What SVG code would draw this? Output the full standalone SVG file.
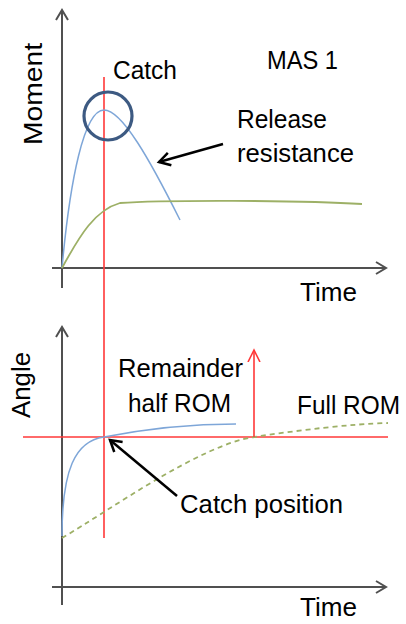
<svg xmlns="http://www.w3.org/2000/svg" width="406" height="624" viewBox="0 0 406 624">
<style>
.t{font-family:"Liberation Sans",Arial,sans-serif;font-size:26px;fill:#000}
.axis{stroke:#505050;stroke-width:2;fill:none}
.red{stroke:#FF3838;stroke-width:1.6;fill:none}
.blue{stroke:#7EA6D8;stroke-width:1.5;fill:none}
.green{stroke:#9DB066;stroke-width:1.8;fill:none}
.dash{stroke:#9DB066;stroke-width:1.8;fill:none;stroke-dasharray:5 4}
.ptr{stroke:#000;stroke-width:2.5;fill:none}
</style>
<defs>
<marker id="axArr" markerUnits="userSpaceOnUse" markerWidth="14" markerHeight="14" refX="11" refY="7" orient="auto">
<path d="M1,1 L11,7 L1,13" fill="none" stroke="#505050" stroke-width="2"/>
</marker>
<marker id="redArr" markerUnits="userSpaceOnUse" markerWidth="14" markerHeight="14" refX="12" refY="7" orient="auto">
<path d="M0,1 L12,7 L0,13" fill="none" stroke="#FF3838" stroke-width="1.6"/>
</marker>
<marker id="blkArr" markerUnits="userSpaceOnUse" markerWidth="16" markerHeight="16" refX="12" refY="8" orient="auto">
<path d="M1,1.5 L12,8 L1,14.5" fill="none" stroke="#000" stroke-width="2.5"/>
</marker>
</defs>

<g id="moment-axes">
<line class="axis" x1="62" y1="288" x2="62" y2="10" marker-end="url(#axArr)"/>
<line class="axis" x1="52" y1="268" x2="386" y2="268" marker-end="url(#axArr)"/>
<text class="t" transform="translate(42,94) rotate(-90)" text-anchor="middle" textLength="102" lengthAdjust="spacingAndGlyphs" font-size="27">Moment</text>
<text class="t" x="300" y="301" textLength="57" lengthAdjust="spacingAndGlyphs">Time</text>
<text class="t" x="267" y="69" textLength="71" lengthAdjust="spacingAndGlyphs">MAS 1</text>
</g>

<g id="angle-axes">
<line class="axis" x1="62" y1="605" x2="62" y2="327" marker-end="url(#axArr)"/>
<line class="axis" x1="52" y1="587" x2="386" y2="587" marker-end="url(#axArr)"/>
<text class="t" transform="translate(30,385) rotate(-90)" text-anchor="middle" textLength="66" lengthAdjust="spacingAndGlyphs">Angle</text>
<text class="t" x="300" y="616" textLength="57" lengthAdjust="spacingAndGlyphs">Time</text>
</g>

<g id="catch-line">
<line class="red" x1="104" y1="77" x2="104" y2="538"/>
<text class="t" x="113" y="79" textLength="64" lengthAdjust="spacingAndGlyphs">Catch</text>
</g>

<g id="moment-curves">
<path class="blue" d="M62,268 C70,180 84,110 104,110 C122,110 150,160 180,220"/>
<path class="green" d="M62,268 C80,235 95,210 120,203 C160,200 300,200 362,204"/>
<circle cx="108" cy="116" r="24" fill="none" stroke="#3D5A82" stroke-width="3.2"/>
</g>

<g id="release-resistance">
<text class="t" x="237" y="128" textLength="90" lengthAdjust="spacingAndGlyphs">Release</text>
<text class="t" x="237" y="162" textLength="117" lengthAdjust="spacingAndGlyphs">resistance</text>
</g>

<g id="angle-curves">
<line class="red" x1="23" y1="437" x2="388" y2="437"/>
<path class="blue" d="M62,536 C62,470 75,441 104,437 C140,430 190,424 236,424"/>
<path class="dash" d="M62,538 C110,510 200,445 254,437 C300,430 350,424 388,423"/>
</g>

<g id="remainder">
<text class="t" x="118" y="377" textLength="125" lengthAdjust="spacingAndGlyphs">Remainder</text>
<text class="t" x="128" y="412" textLength="103" lengthAdjust="spacingAndGlyphs">half ROM</text>
</g>

<g id="full-rom">
<text class="t" x="297" y="414" textLength="103" lengthAdjust="spacingAndGlyphs">Full ROM</text>
</g>

<g id="catch-position">
<text class="t" x="180" y="513" textLength="163" lengthAdjust="spacingAndGlyphs">Catch position</text>
</g>

<g id="connectors">
<line class="ptr" x1="223" y1="144" x2="159" y2="162" marker-end="url(#blkArr)"/>
<line class="ptr" x1="177" y1="496" x2="110" y2="440" marker-end="url(#blkArr)"/>
<line class="red" x1="254" y1="437" x2="254" y2="350" marker-end="url(#redArr)"/>
</g>
</svg>
